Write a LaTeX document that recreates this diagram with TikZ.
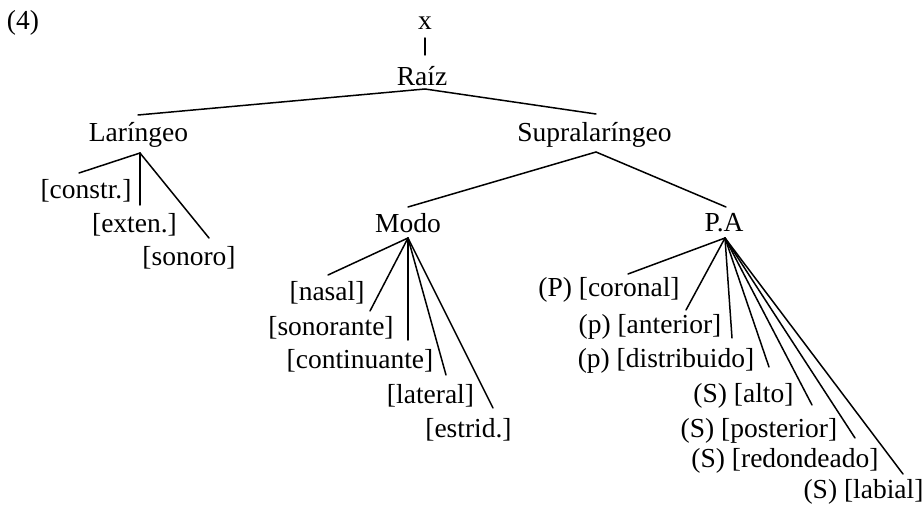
\documentclass[tikz,border=0pt]{standalone}
\usepackage{fontspec}
\setmainfont{Liberation Serif}
\begin{document}
\begin{tikzpicture}[x=1pt,y=-1pt,
  lbl/.style={anchor=base,inner sep=0pt,font=\fontsize{27.5}{33}\selectfont},
  edge/.style={line width=1.5pt,line cap=round}]
\useasboundingbox (0,0) rectangle (924,508);

% example number
\node[lbl] (num) at (23,30) {(4)};

% upper tiers
\node[lbl] (x)    at (425,30)  {x};
\node[lbl] (raiz) at (422,86)  {Raíz};
\node[lbl] (lar)  at (138.5,142) {Laríngeo};
\node[lbl] (sup)  at (594.5,142) {Supralaríngeo};
\node[lbl] (modo) at (408,232) {Modo};
\node[lbl] (pa)   at (724,231) {P.A};

% laryngeal features
\node[lbl] (constr) at (86,198)  {[constr.]};
\node[lbl] (exten)  at (134.5,233) {[exten.]};
\node[lbl] (sonoro) at (189,265) {[sonoro]};

% manner features
\node[lbl] (nasal) at (327,300) {[nasal]};
\node[lbl] (sonor) at (331,335) {[sonorante]};
\node[lbl] (cont)  at (360,368) {[continuante]};
\node[lbl] (lat)   at (430.5,403) {[lateral]};
\node[lbl] (estr)  at (468.5,437) {[estrid.]};

% place features
\node[lbl] (cor)  at (609,296) {(P) [coronal]};
\node[lbl] (ant)  at (650,333) {(p) [anterior]};
\node[lbl] (dist) at (666,367) {(p) [distribuido]};
\node[lbl] (alto) at (743.5,402) {(S) [alto]};
\node[lbl] (post) at (759,437) {(S) [posterior]};
\node[lbl] (red)  at (785,467) {(S) [redondeado]};
\node[lbl] (lab)  at (863.5,498) {(S) [labial]};

% branching points and branch ends
\coordinate (x-b)    at (425,38);
\coordinate (raiz-t) at (425,55);
\coordinate (raiz-b) at (425,89);
\coordinate (lar-t)  at (138,115);
\coordinate (sup-t)  at (596,114);
\coordinate (lar-b)  at (140,153);
\coordinate (sup-b)  at (596,152);
\coordinate (modo-t) at (408,207);
\coordinate (pa-t)   at (726,207);
\coordinate (modo-b) at (408,238);
\coordinate (pa-b)   at (725,238);

\coordinate (constr-t) at (79,173);
\coordinate (exten-t)  at (140,205);
\coordinate (sonoro-t) at (209,238);

\coordinate (nasal-t) at (328,275);
\coordinate (sonor-t) at (370,311);
\coordinate (cont-t)  at (408,340);
\coordinate (lat-t)   at (446,375);
\coordinate (estr-t)  at (493,408);

\coordinate (cor-t)  at (628,274);
\coordinate (ant-t)  at (686,310);
\coordinate (dist-t) at (732,338);
\coordinate (alto-t) at (769,367);
\coordinate (post-t) at (812,405);
\coordinate (red-t)  at (855,438);
\coordinate (lab-t)  at (903,474);

% branches
\draw[edge] (x-b) -- (raiz-t);
\draw[edge] (lar-t) -- (raiz-b) -- (sup-t);
\draw[edge] (constr-t) -- (lar-b) -- (sonoro-t);
\draw[edge] (lar-b) -- (exten-t);
\draw[edge] (modo-t) -- (sup-b) -- (pa-t);
\foreach \c in {nasal-t,sonor-t,cont-t,lat-t,estr-t}
  \draw[edge] (modo-b) -- (\c);
\foreach \c in {cor-t,ant-t,dist-t,alto-t,post-t,red-t,lab-t}
  \draw[edge] (pa-b) -- (\c);
\end{tikzpicture}
\end{document}
